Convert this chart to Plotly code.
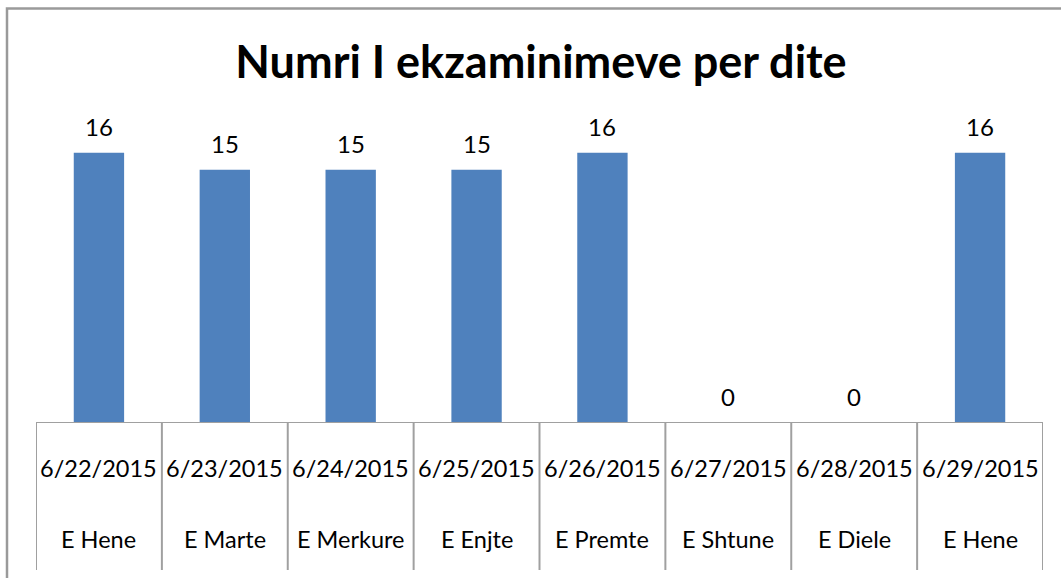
import plotly.graph_objects as go

# ---- data ----
dates = ["6/22/2015", "6/23/2015", "6/24/2015", "6/25/2015",
         "6/26/2015", "6/27/2015", "6/28/2015", "6/29/2015"]
weekdays = ["E Hene", "E Marte", "E Merkure", "E Enjte",
            "E Premte", "E Shtune", "E Diele", "E Hene"]
exams = [16, 15, 15, 15, 16, 0, 0, 16]
title_text = "Numri I ekzaminimeve per dite"

# ---- layout geometry (pixels) ----
W, H = 1061, 578
L, R = 36, 1043          # plot area left/right
T, B = 119, 423          # plot area top/bottom (baseline)
ph = B - T
pw = R - L

def py(pix):  # pixel y -> paper y
    return (B - pix) / ph

def px(pix):  # pixel x -> paper x
    return (pix - L) / pw

FONT = "Lato"
GRAY = "#a0a0a0"
idx = list(range(len(dates)))

fig = go.Figure()
fig.add_trace(go.Bar(
    x=idx, y=exams, marker=dict(color="#4f81bd", line=dict(width=0)),
    width=0.4, hoverinfo="skip",
))

annotations = []
# value labels
for i, v in zip(idx, exams):
    annotations.append(dict(x=i, y=v, xref="x", yref="y", text=str(v),
                            showarrow=False, yanchor="bottom", yshift=10,
                            font=dict(family=FONT, size=24, color="#000000")))
# category labels (two levels)
for i, (d, w) in enumerate(zip(dates, weekdays)):
    annotations.append(dict(x=i, y=0, xref="x", yref="paper", text=d,
                            showarrow=False, yanchor="middle", yshift=-45,
                            font=dict(family=FONT, size=23.5, color="#000000")))
    annotations.append(dict(x=i, y=0, xref="x", yref="paper", text=w,
                            showarrow=False, yanchor="middle", yshift=-116,
                            font=dict(family=FONT, size=23.5, color="#000000")))

shapes = []
# category dividers
for k in range(len(dates) + 1):
    shapes.append(dict(type="line", xref="x", yref="paper",
                       x0=k - 0.5, x1=k - 0.5, y0=0, y1=py(570),
                       line=dict(color=GRAY, width=2)))
# baseline
shapes.append(dict(type="line", xref="paper", yref="y",
                   x0=0, x1=1, y0=0, y1=0, line=dict(color=GRAY, width=2)))
# outer chart frame (extends beyond the image at right and bottom)
shapes.append(dict(type="rect", xref="paper", yref="paper",
                   x0=px(7), x1=px(W + 20), y0=py(H + 20), y1=py(8.5),
                   line=dict(color="#9a9a9a", width=2.5), fillcolor="rgba(0,0,0,0)"))

fig.update_layout(
    width=W, height=H,
    margin=dict(l=L, r=W - R, t=T, b=H - B, pad=0),
    paper_bgcolor="white", plot_bgcolor="white",
    showlegend=False,
    title=dict(text=f"<b>{title_text}</b>", x=541 / W, xanchor="center",
               y=1 - 62 / H, yanchor="middle",
               font=dict(family=FONT, size=45, color="#000000")),
    xaxis=dict(range=[-0.5, len(dates) - 0.5], showticklabels=False,
               showgrid=False, zeroline=False, showline=False, ticks="",
               fixedrange=True),
    yaxis=dict(range=[0, 18], visible=False, fixedrange=True),
    annotations=annotations,
    shapes=shapes,
)

fig.write_html("out.html")
